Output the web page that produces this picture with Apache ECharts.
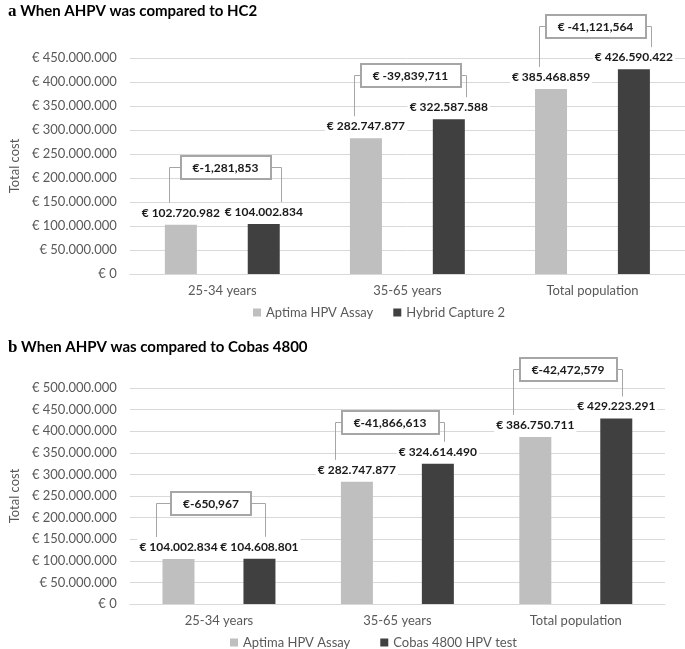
<!DOCTYPE html>
<html><head><meta charset="utf-8">
<script src="https://cdn.jsdelivr.net/npm/echarts@6/dist/echarts.min.js"></script>
<style>html,body{margin:0;padding:0;background:#fff}#c{width:685px;height:649px}</style>
</head><body><div id="c"></div>
<script>
// ---- data ----
const categories = ['25-34 years', '35-65 years', 'Total population'];
const seriesNamesA = ['Aptima HPV Assay', 'Hybrid Capture 2'];
const seriesNamesB = ['Aptima HPV Assay', 'Cobas 4800 HPV test'];
const aptimaA = [102720982, 282747877, 385468859];
const hc2A    = [104002834, 322587588, 426590422];
const aptimaB = [104002834, 282747877, 386750711];
const cobasB  = [104608801, 324614490, 429223291];
const diffLabelsA = ['€-1,281,853', '€ -39,839,711', '€ -41,121,564'];
const diffLabelsB = ['€-650,967', '€-41,866,613', '€-42,472,579'];
const titleA = 'When AHPV was compared to HC2';
const titleB = 'When AHPV was compared to Cobas 4800';
const yAxisName = 'Total cost';
const yMaxA = 450000000, yMaxB = 500000000, yStep = 50000000;

// ---- style ----
const FONT = 'Lato';
const LIGHT = '#bfbfbf', DARK = '#404040', GRID = '#d9d9d9', AXT = '#595959';
const fmt = v => '€ ' + String(v).replace(/\B(?=(\d{3})+(?!\d))/g, '.');

const chart = echarts.init(document.getElementById('c'), null, {renderer: 'canvas'});

function yAxis(gi, max) {
  return {
    type: 'value', gridIndex: gi, min: 0, max: max, interval: yStep,
    name: yAxisName, nameLocation: 'middle', nameGap: 102, nameRotate: 90,
    nameTextStyle: {color: AXT, fontSize: 13, fontFamily: FONT},
    axisLine: {show: false}, axisTick: {show: false},
    axisLabel: {color: AXT, fontSize: 13, fontFamily: FONT, margin: 13, formatter: v => fmt(v)},
    splitLine: {lineStyle: {color: GRID, width: 1}}
  };
}
function xAxis(gi) {
  return {
    type: 'category', gridIndex: gi, data: categories,
    axisLine: {lineStyle: {color: GRID, width: 1}}, axisTick: {show: false},
    axisLabel: {color: AXT, fontSize: 13, fontFamily: FONT, margin: 10}
  };
}
function bar(name, data, color, ai, gap) {
  return {
    type: 'bar', name: name, data: data, xAxisIndex: ai, yAxisIndex: ai,
    barWidth: 32, barGap: gap, itemStyle: {color: color},
    label: {show: true, position: 'top', distance: 4, formatter: p => fmt(p.value),
      color: '#1a1a1a', fontWeight: 'bold', fontSize: 12, fontFamily: FONT,
      backgroundColor: '#fff', padding: [2, 2]},
    labelLayout: {hideOverlap: false},
    emphasis: {disabled: true}
  };
}

const titleStyle = {
  color: '#000', fontSize: 15, fontWeight: 'bold', fontFamily: FONT,
  rich: {s: {fontFamily: 'Liberation Serif', fontWeight: 'bold', fontSize: 17, color: '#000'}}
};

chart.setOption({
  animation: false,
  title: [
    {left: 3, top: -2, text: '{s|a} ' + titleA, textStyle: titleStyle},
    {left: 3, top: 334, text: '{s|b} ' + titleB, textStyle: titleStyle}
  ],
  grid: [
    {left: 124, top: 58, width: 562, height: 216, containLabel: false},
    {left: 116, top: 388, width: 549, height: 216, containLabel: false}
  ],
  xAxis: [xAxis(0), xAxis(1)],
  yAxis: [yAxis(0, yMaxA), yAxis(1, yMaxB)],
  legend: [
    {data: seriesNamesA, left: 248, top: 301, itemWidth: 8, itemHeight: 8, itemGap: 20, icon: 'rect',
      textStyle: {color: AXT, fontSize: 13, fontFamily: FONT}, selectedMode: false},
    {data: seriesNamesB, left: 225, top: 631, itemWidth: 8, itemHeight: 8, itemGap: 30, icon: 'rect',
      textStyle: {color: AXT, fontSize: 13, fontFamily: FONT}, selectedMode: false}
  ],
  series: [
    bar(seriesNamesA[0], aptimaA, LIGHT, 0, '159%'),
    bar(seriesNamesA[1], hc2A, DARK, 0, '159%'),
    bar(seriesNamesB[0], aptimaB, LIGHT, 1, '153%'),
    bar(seriesNamesB[1], cobasB, DARK, 1, '153%')
  ]
});

// ---- bracket annotations computed from the bar layouts ----
const ctx = document.createElement('canvas').getContext('2d');
const BOXFONT = 'bold 12px ' + FONT;
ctx.font = BOXFONT;
const model = chart.getModel();
function layoutOf(si, i) {
  const l = model.getSeriesByIndex(si).getData().getItemLayout(i);
  return {cx: l.x + l.width / 2, top: Math.min(l.y, l.y + l.height)};
}
const bracketCfg = [
  {sL: 0, sR: 1, labels: diffLabelsA, offL: -12, offR: 17, lift: [57, 44, 43]},
  {sL: 2, sR: 3, labels: diffLabelsB, offL: -22, offR: 6, lift: [56, 42, 50]}
];
const graphics = [];
const lineStyle = {stroke: '#a6a6a6', lineWidth: 1, fill: null};
bracketCfg.forEach(cfg => {
  categories.forEach((c, i) => {
    const L = layoutOf(cfg.sL, i), R = layoutOf(cfg.sR, i);
    const lx = Math.round(L.cx + cfg.offL) + 0.5, rx = Math.round(R.cx + cfg.offR) + 0.5;
    const hy = Math.round(Math.min(L.top, R.top) - cfg.lift[i]) + 0.5;
    const lb = L.top - 22, rb = R.top - 22;
    const tw = ctx.measureText(cfg.labels[i]).width;
    const bw = Math.round(tw + 24), bh = 23;
    const mx = (lx + rx) / 2;
    const bx = Math.round(mx - bw / 2), by = Math.round(hy - bh / 2);
    graphics.push({type: 'polyline', silent: true, z: 50, shape: {points: [[lx, lb], [lx, hy], [bx, hy]]}, style: lineStyle});
    graphics.push({type: 'polyline', silent: true, z: 50, shape: {points: [[bx + bw, hy], [rx, hy], [rx, rb]]}, style: lineStyle});
    graphics.push({type: 'rect', silent: true, z: 51, shape: {x: bx, y: by, width: bw, height: bh},
      style: {fill: '#fff', stroke: '#a6a6a6', lineWidth: 2}});
    graphics.push({type: 'text', silent: true, z: 52,
      style: {text: cfg.labels[i], x: mx, y: hy + 0.5, textAlign: 'center', textVerticalAlign: 'middle',
        font: BOXFONT, fill: '#1a1a1a'}});
  });
});
chart.setOption({graphic: graphics});
</script>
</body></html>
